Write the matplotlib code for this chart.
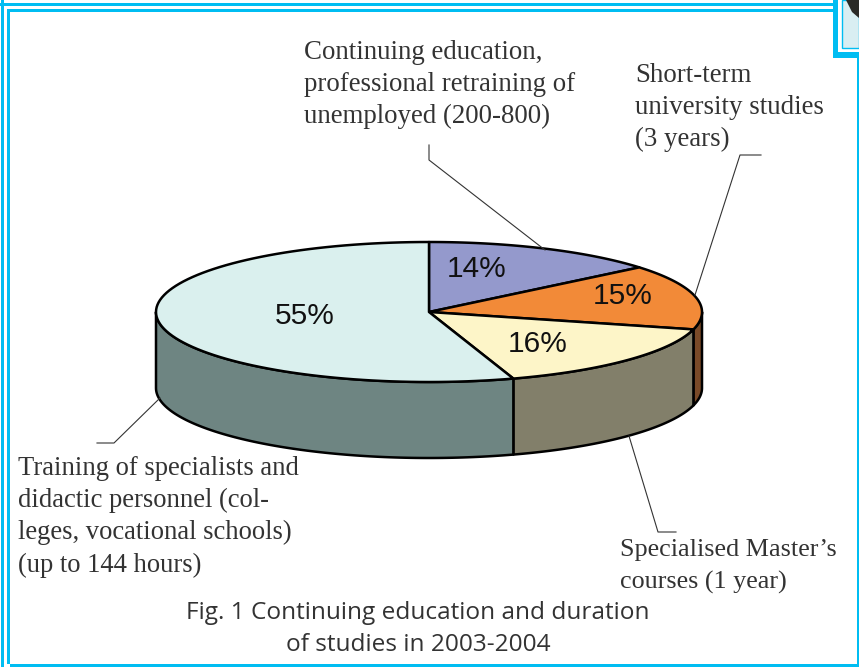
import numpy as np
import matplotlib.pyplot as plt
from matplotlib.patches import Polygon, Rectangle

shares = [14, 15, 16, 55]
top_colors = ['#9499cc', '#f28a38', '#fdf5c8', '#daf0ee']
side_colors = [None, '#7a4a28', '#827f6a', '#6e8582']
label_pos = [(477, 269), (623, 296), (538, 344), (305, 316)]

category_labels = [
    'Continuing education,\nprofessional retraining of\nunemployed (200-800)',
    'Short-term\nuniversity studies\n(3 years)',
    'Specialised Master\u2019s\ncourses (1 year)',
    'Training of specialists and\ndidactic personnel (col-\nleges, vocational schools)\n(up to 144 hours)',
]
caption = 'Fig. 1 Continuing education and duration\nof studies in 2003-2004'

cx, cy = 429, 312
rx, ry = 273, 70
depth = 76
blue = '#00bdf2'
ink = '#333333'


def rim(a0, a1):
    # clockwise from the top of the ellipse, angles in degrees
    t = np.radians(np.linspace(a0, a1, 100))
    return np.column_stack([cx + rx * np.sin(t), cy - ry * np.cos(t)])


fig = plt.figure(figsize=(8.59, 6.67), dpi=100)
ax = fig.add_axes([0, 0, 1, 1])
ax.set_xlim(0, 859)
ax.set_ylim(667, 0)
ax.axis('off')

# page frame
frame = [(1, 0, 3, 667), (7, 9, 3, 655), (0, 3, 833, 3), (7, 9, 826, 3),
         (10, 664, 849, 3), (833, 0, 5, 58), (833, 52, 26, 6), (857, 58, 2, 606)]
for x, y, w, h in frame:
    ax.add_patch(Rectangle((x, y), w, h, fc=blue, ec='none'))

# corner of the photo
ax.add_patch(Rectangle((842, 0), 17, 48, fc='#d9eef2', ec=blue, lw=1))
ax.add_patch(Polygon([(846, 0), (852, 12), (859, 18), (859, 0)], fc='#2a2a26', ec='none'))

# leader lines
leaders = [[(429, 145), (429, 160), (545, 250)],
           [(761, 155), (740, 155), (695, 295)],
           [(676, 532), (658, 532), (629, 436)],
           [(97, 443), (114, 443), (160, 398)]]
for pts in leaders:
    xs, ys = zip(*pts)
    ax.plot(xs, ys, color='#333333', lw=0.8)

# pie
edges = np.cumsum([0] + shares) * 3.6
for i in range(4):
    a0, a1 = edges[i], edges[i + 1]
    # side wall, only the front half of the rim shows
    s0, s1 = max(a0, 90), min(a1, 270)
    if side_colors[i] and s1 > s0:
        r = rim(s0, s1)
        wall = np.vstack([r, (r + [0, depth])[::-1]])
        ax.add_patch(Polygon(wall, fc=side_colors[i], ec='black', lw=1.8, joinstyle='round'))
for i in range(4):
    wedge = np.vstack([[cx, cy], rim(edges[i], edges[i + 1])])
    ax.add_patch(Polygon(wedge, fc=top_colors[i], ec='black', lw=1.8, joinstyle='round'))

for s, (x, y) in zip(shares, label_pos):
    ax.text(x, y, f'{s}%', family='Liberation Sans', fontsize=21.5, color='#111111',
            ha='center', va='center')

# category labels
serif = dict(family='Liberation Serif', color=ink, ha='left', va='top')
ax.text(304, 40, category_labels[0], fontsize=19.4, linespacing=1.37, **serif)
ax.text(635, 63, category_labels[1], fontsize=19.4, linespacing=1.37, **serif)
ax.text(620, 539, category_labels[2], fontsize=18.8, linespacing=1.55, **serif)
ax.text(18, 456, category_labels[3], fontsize=19.2, linespacing=1.37, **serif)

ax.text(418, 629, caption, family='Open Sans', fontsize=17.6, color=ink,
        ha='center', va='center', linespacing=1.45)

fig.savefig('out.png', dpi=100)
